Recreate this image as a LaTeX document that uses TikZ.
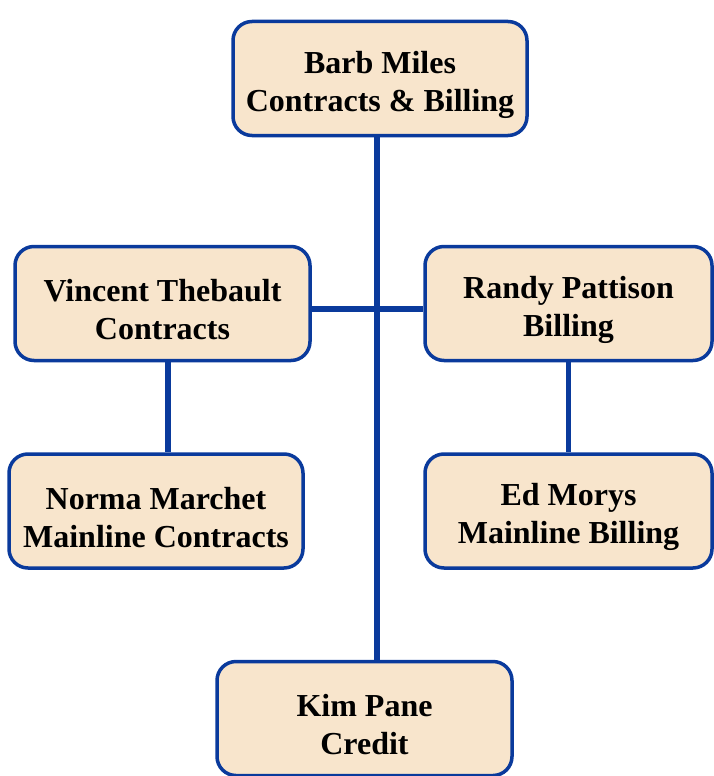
\documentclass[tikz,border=0pt]{standalone}
\usepackage{fontspec}
\setmainfont{Liberation Serif}
\definecolor{bordblue}{HTML}{0A3A9C}
\definecolor{boxfill}{HTML}{F8E5CC}
\newcommand\orgtext[2]{\rule{0pt}{35pt}#1\\#2}
\begin{document}
\begin{tikzpicture}[x=1pt,y=-1pt,
  orgbox/.style={draw=bordblue,line width=3.5pt,fill=boxfill,rounded corners=19pt,
    minimum height=114pt,align=center,inner sep=0pt,
    font=\fontsize{32}{38}\selectfont\bfseries},
  link/.style={draw=bordblue,line width=5.5pt}]
\useasboundingbox (0,0) rectangle (714,776);
\node[orgbox,minimum width=294pt] (barb) at (380,78.5) {\orgtext{Barb Miles}{Contracts \& Billing}};
\node[orgbox,minimum width=295pt] (vin) at (162.5,303.5) {\orgtext{Vincent Thebault}{Contracts}};
\node[orgbox,minimum width=287pt] (ran) at (568.5,303.5) {\orgtext{Randy Pattison}{Billing}};
\node[orgbox,minimum width=294pt] (nor) at (156,511) {\orgtext{Norma Marchet}{Mainline Contracts}};
\node[orgbox,minimum width=287pt] (ed) at (568.5,511) {\orgtext{Ed Morys}{Mainline Billing}};
\node[orgbox,minimum width=295pt] (kim) at (364.5,718.5) {\orgtext{Kim Pane}{Credit}};
\draw[link] ([xshift=-3pt]barb.south) -- ([xshift=-3pt]barb.south |- kim.north);
\draw[link] ([yshift=-5.5pt]vin.east) -- ([yshift=-5.5pt]vin.east -| ran.west);
\draw[link] ([xshift=5.5pt]vin.south) -- ([xshift=5.5pt]vin.south |- nor.north);
\draw[link] (ran.south) -- (ran.south |- ed.north);
\end{tikzpicture}
\end{document}
